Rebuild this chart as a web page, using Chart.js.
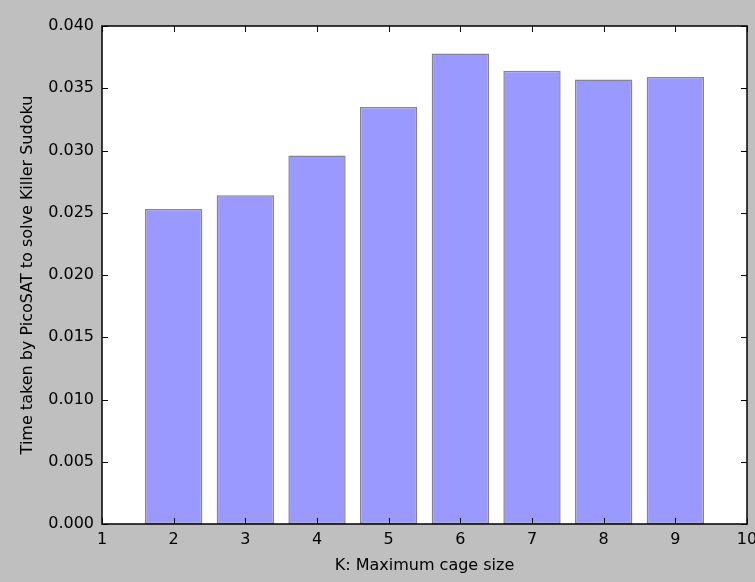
<!DOCTYPE html>
<html>
<head>
<meta charset="utf-8">
<script src="https://cdn.jsdelivr.net/npm/chart.js@4"></script>
<style>
  html, body { margin: 0; padding: 0; background: #bfbfbf; }
  #wrap { width: 755px; height: 582px; }
</style>
</head>
<body>
<div id="wrap"><canvas id="picoChart" width="755" height="582"></canvas></div>
<script>
// K values (max cage size) and solve times
const cageSizes = [2, 3, 4, 5, 6, 7, 8, 9];
const solveTimes = [0.0253, 0.0264, 0.0296, 0.0335, 0.0378, 0.0364, 0.0357, 0.0359];
const xTicks = [1, 2, 3, 4, 5, 6, 7, 8, 9, 10];
const yTicks = [0, 0.005, 0.01, 0.015, 0.02, 0.025, 0.03, 0.035, 0.04];

const font = { family: "'DejaVu Sans', sans-serif", size: 16 };

// matplotlib classic look: black frame + inward ticks on all four sides
const frameAndTicks = {
  id: "frameAndTicks",
  afterDraw(chart) {
    const { ctx, chartArea: a, scales } = chart;
    const len = 6;
    ctx.save();
    ctx.strokeStyle = "#000";
    ctx.lineWidth = 1;
    ctx.beginPath();
    xTicks.forEach(v => {
      const x = Math.round(scales.x.getPixelForValue(v)) + 0.5;
      ctx.moveTo(x, a.bottom); ctx.lineTo(x, a.bottom - len);
      ctx.moveTo(x, a.top); ctx.lineTo(x, a.top + len);
    });
    yTicks.forEach(v => {
      const y = Math.round(scales.y.getPixelForValue(v)) + 0.5;
      ctx.moveTo(a.left, y); ctx.lineTo(a.left + len, y);
      ctx.moveTo(a.right, y); ctx.lineTo(a.right - len, y);
    });
    ctx.stroke();
    ctx.lineWidth = 1.5;
    ctx.strokeRect(a.left, a.top, a.right - a.left, a.bottom - a.top);
    ctx.restore();
  }
};

const plotBg = {
  id: "plotBg",
  beforeDraw(chart) {
    const { ctx, chartArea: a } = chart;
    ctx.save();
    ctx.fillStyle = "#bfbfbf";
    ctx.fillRect(0, 0, chart.width, chart.height);
    ctx.fillStyle = "#ffffff";
    ctx.fillRect(a.left, a.top, a.right - a.left, a.bottom - a.top);
    ctx.restore();
  }
};

const config = {
  type: "bar",
  data: {
    datasets: [{
      data: cageSizes.map((k, i) => ({ x: k, y: solveTimes[i] })),
      backgroundColor: "#9999ff",
      borderColor: "#85858f",
      borderWidth: 1.5,
      borderSkipped: false,
      barPercentage: 0.8,
      categoryPercentage: 1.0,
    }],
  },
  options: {
    responsive: false,
    animation: false,
    layout: { padding: { left: 0, top: 26, right: 8, bottom: 0 } },
    plugins: { legend: { display: false }, tooltip: { enabled: false } },
    scales: {
      x: {
        type: "linear",
        min: 1,
        max: 10,
        offset: false,
        grid: { display: false, drawTicks: false },
        border: { display: false },
        afterBuildTicks(scale) { scale.ticks = xTicks.map(v => ({ value: v })); },
        afterFit(scale) { scale.height = 58; scale.paddingLeft = 0; scale.paddingRight = 0; },
        ticks: { color: "#000", font, padding: 6, maxRotation: 0, autoSkip: false,
          callback: v => String(v) },
        title: { display: true, text: "K: Maximum cage size", color: "#000", font,
          padding: { top: 0, bottom: 7 } },
      },
      y: {
        min: 0,
        max: 0.04,
        grid: { display: false, drawTicks: false },
        border: { display: false },
        afterBuildTicks(scale) { scale.ticks = yTicks.map(v => ({ value: v })); },
        afterFit(scale) { scale.width = 102; scale.paddingTop = 0; scale.paddingBottom = 0; },
        ticks: { color: "#000", font, padding: 8, callback: v => v.toFixed(3) },
        title: { display: true, text: "Time taken by PicoSAT to solve Killer Sudoku",
          color: "#000", font, padding: { top: 18, bottom: 0 } },
      },
    },
  },
  plugins: [plotBg, frameAndTicks],
};

const picoChart = new Chart(document.getElementById("picoChart"), config);
</script>
</body>
</html>
